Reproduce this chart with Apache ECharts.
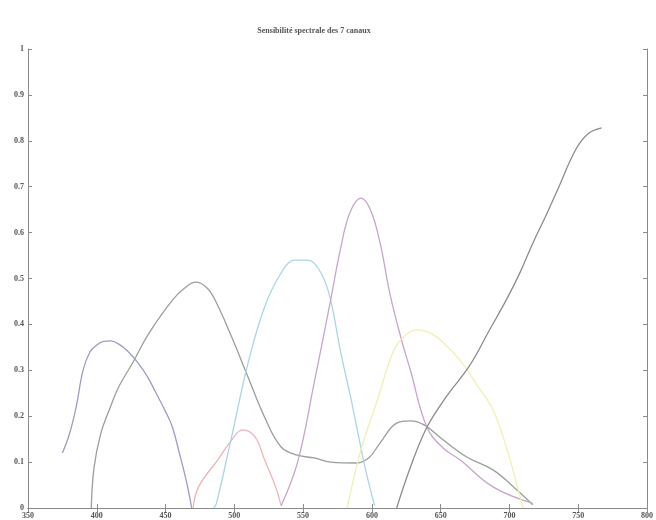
<!DOCTYPE html>
<html><head><meta charset="utf-8">
<script src="https://cdn.jsdelivr.net/npm/echarts@6/dist/echarts.min.js"></script>
<style>html,body{margin:0;padding:0;background:#fff}#c{width:656px;height:520px}</style>
</head><body><div id="c"></div>
<script>
const titleText = "Sensibilité spectrale des 7 canaux";
const xTicks = [350, 800, 50];
const yTicks = [0, 1, 0.1];
const ch1 = [[375,0.12],[380,0.16],[385,0.22],[390,0.30],[395,0.34],[400,0.355],[405,0.363],[410,0.364],[416,0.357],[422,0.343],[430,0.316],[437,0.285],[443,0.251],[450,0.21],[455,0.176],[460,0.12],[465,0.06],[469,0]];
const ch2 = [[396,0],[398,0.088],[403,0.163],[409,0.213],[416,0.264],[426,0.316],[438,0.381],[455,0.453],[465,0.482],[472,0.492],[480,0.48],[486,0.453],[498,0.373],[510,0.285],[522,0.198],[534,0.133],[546,0.115],[558,0.109],[570,0.1],[589,0.098],[598,0.11],[606,0.142],[618,0.185],[628,0.19],[638,0.181],[652,0.148],[669,0.111],[688,0.083],[703,0.046],[717,0.007]];
const ch3 = [[470,0],[474,0.046],[488,0.105],[498,0.148],[506,0.17],[515,0.155],[522,0.105],[530,0.046],[534,0.005]];
const ch4 = [[485,0],[487,0.01],[498,0.155],[510,0.316],[522,0.438],[534,0.512],[544,0.54],[553,0.54],[563,0.512],[570,0.453],[577,0.344],[585,0.235],[595,0.089],[602,0.005]];
const ch5 = [[534,0.005],[546,0.1],[558,0.272],[570,0.453],[577,0.562],[584,0.643],[592,0.675],[599,0.649],[606,0.577],[613,0.468],[621,0.372],[628,0.3],[640,0.176],[652,0.13],[664,0.105],[688,0.046],[717,0.01]];
const ch6 = [[582,0],[592,0.126],[604,0.235],[616,0.344],[625,0.378],[633,0.388],[642,0.382],[652,0.36],[664,0.322],[676,0.27],[688,0.214],[698,0.13],[707,0.033],[710,0]];
const ch7 = [[618,0],[628,0.089],[640,0.176],[654,0.242],[671,0.31],[685,0.385],[698,0.455],[708,0.515],[717,0.577],[727,0.64],[736,0.70],[748,0.78],[757,0.815],[767,0.828]];
const names = ["canal 1","canal 2","canal 3","canal 4","canal 5","canal 6","canal 7"];
const colors = ["#9a9cc6","#98a098","#f0b4b8","#a9d6e6","#c8a4cc","#f2eeb4","#8c8c8c"];
const all = [ch1,ch2,ch3,ch4,ch5,ch6,ch7];

const chart = echarts.init(document.getElementById('c'));
const axisLine = {show:true, lineStyle:{color:'#8a8a8a', width:1}};
const tick = {show:true, inside:true, length:4, lineStyle:{color:'#8a8a8a'}};
chart.setOption({
  animation:false,
  title:{text:titleText, left:309, top:22, textAlign:'center',
    textStyle:{fontSize:8, fontWeight:'bold', color:'#555', fontFamily:'Liberation Serif'}},
  grid:{left:28, right:4, top:49, bottom:12},
  xAxis:[
    {type:'value', min:xTicks[0], max:xTicks[1], interval:xTicks[2], axisLine:axisLine, axisTick:tick, splitLine:{show:false},
     axisLabel:{fontSize:8, fontWeight:'bold', color:'#555', margin:4, fontFamily:'Liberation Serif'}},
    {type:'value', position:'top', min:xTicks[0], max:xTicks[1], interval:xTicks[2], axisLine:axisLine, axisTick:tick, splitLine:{show:false}, axisLabel:{show:false}}
  ],
  yAxis:[
    {type:'value', min:yTicks[0], max:yTicks[1], interval:yTicks[2], axisLine:axisLine, axisTick:tick, splitLine:{show:false},
     axisLabel:{fontSize:8, fontWeight:'bold', color:'#555', margin:4, fontFamily:'Liberation Serif', formatter:v=>String(Math.round(v*10)/10)}},
    {type:'value', position:'right', min:yTicks[0], max:yTicks[1], interval:yTicks[2], axisLine:axisLine, axisTick:tick, splitLine:{show:false}, axisLabel:{show:false}}
  ],
  series: all.map((d,i)=>({name:names[i], type:'line', data:d, smooth:0.4, showSymbol:false,
    lineStyle:{color:colors[i], width:1.3}, itemStyle:{color:colors[i]}}))
});
</script></body></html>
